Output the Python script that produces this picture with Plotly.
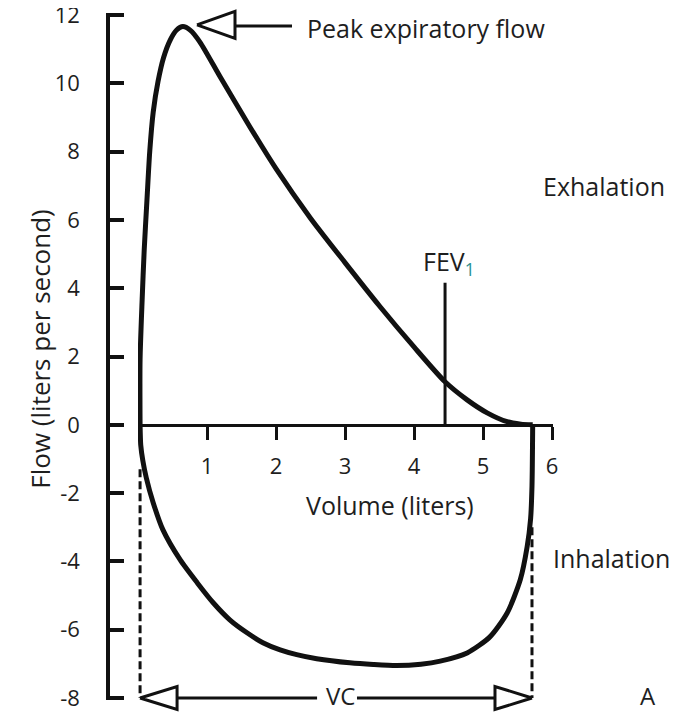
import plotly.graph_objects as go

# The page body adds an 8px offset, so the figure is 8px smaller than the window
OFF = 8
W, H = 677 - OFF, 713 - OFF

# ---------------- data ----------------
exp_volume = [0.03, 0.03, 0.06, 0.09, 0.13, 0.17, 0.22, 0.29, 0.37, 0.47, 0.56, 0.65,
              0.76, 0.90, 1.19, 1.62, 2.00, 2.50, 3.00, 3.50, 4.00, 4.45, 4.77, 5.06,
              5.35, 5.55, 5.72]
exp_flow = [0.00, 1.90, 3.66, 5.12, 6.59, 8.00, 9.15, 10.05, 10.75, 11.28, 11.56, 11.66,
            11.55, 11.20, 10.19, 8.73, 7.50, 6.05, 4.75, 3.48, 2.28, 1.26, 0.73, 0.35,
            0.09, 0.02, 0.00]

insp_volume = [0.03, 0.04, 0.07, 0.12, 0.22, 0.36, 0.61, 0.86, 1.09, 1.33, 1.58, 1.81,
               2.06, 2.30, 2.59, 3.07, 3.41, 3.75, 4.10, 4.38, 4.77, 5.10, 5.35, 5.54,
               5.64, 5.69, 5.71, 5.72]
insp_flow = [0.00, -0.60, -1.05, -1.55, -2.28, -3.07, -3.95, -4.63, -5.21, -5.71, -6.09,
             -6.38, -6.59, -6.73, -6.85, -6.97, -7.02, -7.05, -7.01, -6.92, -6.68, -6.21,
             -5.51, -4.54, -3.57, -2.75, -1.80, 0.00]

x_ticks = [1, 2, 3, 4, 5, 6]
x_ticktext = ["1", "2", "3", "4", "5", "6"]
y_ticks = [-8, -6, -4, -2, 0, 2, 4, 6, 8, 10, 12]
y_ticktext = ["-8", "-6", "-4", "-2", "0", "2", "4", "6", "8", "10", "12"]

fev1_volume = 4.45
fev1_flow_top = 4.16
vc_start = 0.03
vc_end = 5.71
vc_level = -8.0
dash_left_top = -1.3
dash_right_top = -3.0
peak_tip = (0.855, 11.71)

# ---------------- layout geometry ----------------
# reference pixel positions of the scale ends (page coords), page offset removed
X0_PX, X6_PX = 138 - OFF, 552 - OFF        # volume 0 and 6
YTOP_PX, YBOT_PX = 15 - OFF, 698 - OFF      # flow 12 and -8
XPAD, YPAD = 0.01, 0.05                     # tiny range pads so end ticks are kept
x_lo, x_hi = 0, 6
y_lo, y_hi = -8, 12
ppx = (X6_PX - X0_PX) / (x_hi - x_lo)
ppy = (YBOT_PX - YTOP_PX) / (y_hi - y_lo)

x_range = [x_lo, x_hi + XPAD]
y_range = [y_lo - YPAD, y_hi + YPAD]
x_dom = [X0_PX / W, (X6_PX + XPAD * ppx) / W]
y_dom = [(H - (YBOT_PX + YPAD * ppy)) / H, (H - (YTOP_PX - YPAD * ppy)) / H]
yaxis_x = (108 - OFF) / W

x2_range = [x_lo - X0_PX / ppx, x_lo + (W - X0_PX) / ppx]
y2_range = [y_hi - (H - YTOP_PX) / ppy, y_hi + YTOP_PX / ppy]
xaxis_pos = (H - (YTOP_PX + (y_hi - 0) * ppy)) / H


def dx(px):
    return px / ppx


def dy(px):
    return px / ppy


INK = "#111111"
TXT = "#1e1e1e"
FONT = "Open Sans"

fig = go.Figure()

# loop curves on the main axes
fig.add_trace(go.Scatter(x=exp_volume, y=exp_flow, mode="lines",
                         line=dict(color=INK, width=5, shape="spline", smoothing=0.7),
                         hoverinfo="skip", showlegend=False))
fig.add_trace(go.Scatter(x=insp_volume, y=insp_flow, mode="lines",
                         line=dict(color=INK, width=5, shape="spline", smoothing=0.7),
                         hoverinfo="skip", showlegend=False))
# FEV1 marker line
fig.add_trace(go.Scatter(x=[fev1_volume, fev1_volume], y=[0, fev1_flow_top], mode="lines",
                         line=dict(color=INK, width=3), hoverinfo="skip", showlegend=False))


# overlay (unclipped) drawing axes
def ov(x, y, width=3, dash=None):
    fig.add_trace(go.Scatter(x=x, y=y, mode="lines", xaxis="x2", yaxis="y2",
                             line=dict(color=INK, width=width, dash=dash),
                             hoverinfo="skip", showlegend=False))


# dashed VC guides
ov([vc_start, vc_start], [dash_left_top, vc_level], dash="8px,4px")
ov([vc_end, vc_end], [dash_right_top, vc_level], dash="8px,4px")

# VC arrows (open triangles)
tri_w, tri_h = dx(37), dy(11.5)
ov([vc_start, vc_start + tri_w, vc_start + tri_w, vc_start],
   [vc_level, vc_level + tri_h, vc_level - tri_h, vc_level])
ov([vc_start + tri_w, vc_start + dx(177)], [vc_level, vc_level])
ov([vc_end, vc_end - tri_w, vc_end - tri_w, vc_end],
   [vc_level, vc_level + tri_h, vc_level - tri_h, vc_level])
ov([vc_end - tri_w, vc_end - dx(175)], [vc_level, vc_level])

# Peak expiratory flow arrow
pk_w, pk_h = dx(38), dy(13.5)
ov([peak_tip[0], peak_tip[0] + pk_w, peak_tip[0] + pk_w, peak_tip[0]],
   [peak_tip[1], peak_tip[1] + pk_h, peak_tip[1] - pk_h, peak_tip[1]])
ov([peak_tip[0] + pk_w, peak_tip[0] + dx(95)], [peak_tip[1] - dy(1), peak_tip[1] - dy(1)])


# ---------------- annotations ----------------
def note(text, x, y, xanchor="center", angle=0, size=25):
    fig.add_annotation(text=text, x=x, y=y, xref="x2", yref="y2", xanchor=xanchor,
                       yanchor="middle", showarrow=False, textangle=angle,
                       font=dict(family=FONT, size=size, color=TXT))


note("Peak expiratory flow", 2.42, 11.62, xanchor="left")
note("Exhalation", 6.754, 7.0)
note("FEV<sub><span style='color:#2a8f8f'>1</span></sub>", 4.50, 4.75)
note("Inhalation", 6.86, -3.89)
note("VC", 2.93, -7.93, size=24)
note("A", 7.39, -7.93, size=24)
note("Volume (liters)", 3.65, -2.34)
note("Flow (liters per second)", -1.42, 2.2, angle=-90, size=26)

fig.update_layout(
    width=W, height=H, autosize=False,
    margin=dict(l=0, r=0, t=0, b=0, pad=0),
    paper_bgcolor="white", plot_bgcolor="rgba(0,0,0,0)",
    showlegend=False,
    font=dict(family=FONT, color=TXT),
    xaxis=dict(domain=x_dom, range=x_range, anchor="free", position=xaxis_pos,
               showline=True, linewidth=3, linecolor=INK, showgrid=False, zeroline=False,
               ticks="outside", ticklen=13, tickwidth=3, tickcolor=INK,
               tickmode="array", tickvals=x_ticks, ticktext=x_ticktext,
               tickfont=dict(family=FONT, size=22, color=TXT), ticklabelstandoff=8,
               ticklabeloverflow="allow",
               automargin=False, fixedrange=True),
    yaxis=dict(domain=y_dom, range=y_range, anchor="free", position=yaxis_x, side="left",
               showline=True, linewidth=3.5, linecolor=INK, showgrid=False, zeroline=False,
               ticks="inside", ticklen=14, tickwidth=3.5, tickcolor=INK,
               tickmode="array", tickvals=y_ticks, ticktext=y_ticktext,
               tickfont=dict(family=FONT, size=22, color=TXT), ticklabelstandoff=22,
               ticklabeloverflow="allow",
               automargin=False, fixedrange=True),
    xaxis2=dict(domain=[0, 1], range=x2_range, anchor="y2", visible=False, fixedrange=True),
    yaxis2=dict(domain=[0, 1], range=y2_range, anchor="x2", visible=False, fixedrange=True),
)

fig.write_html("out.html")
